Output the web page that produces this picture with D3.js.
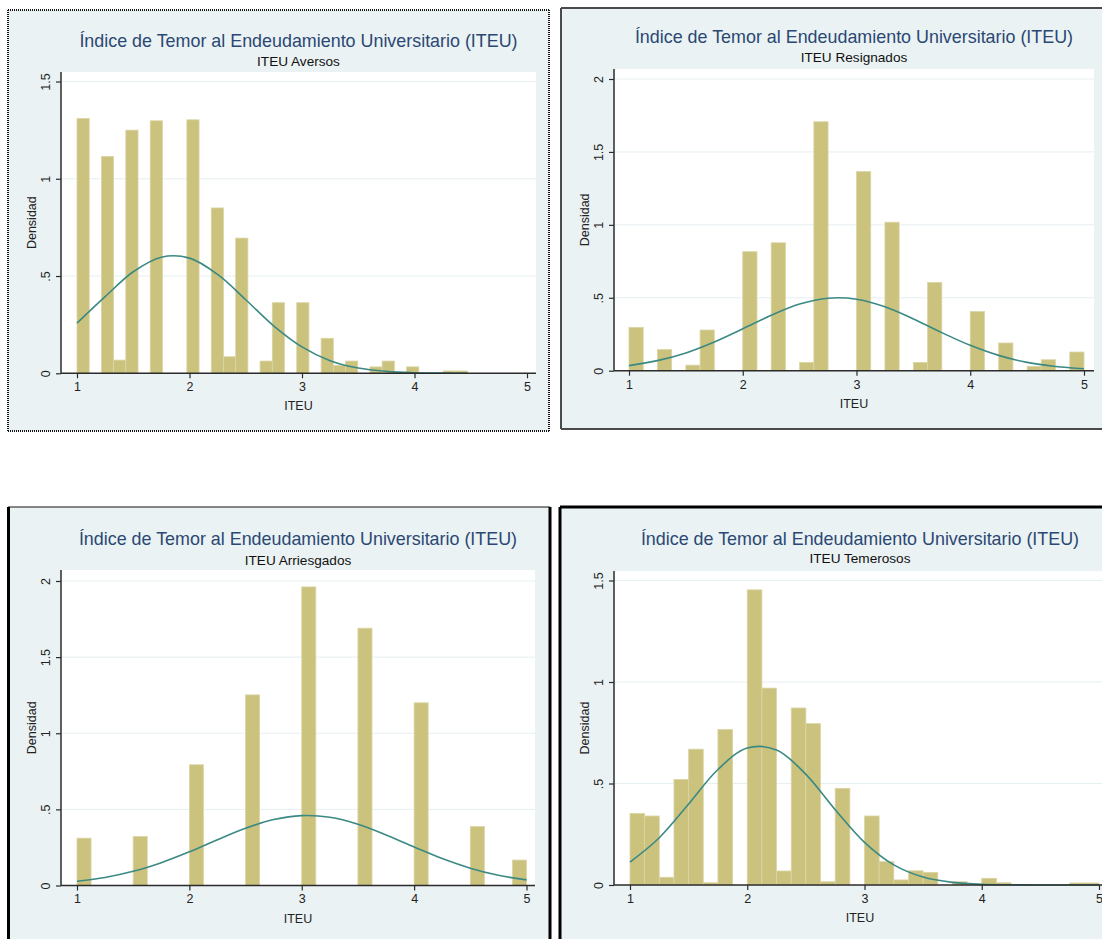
<!DOCTYPE html>
<html>
<head>
<meta charset="utf-8">
<script src="https://cdnjs.cloudflare.com/ajax/libs/d3/7.8.5/d3.min.js"></script>
<style>
  body { margin: 0; background: #ffffff; }
  svg { display: block; font-family: "Liberation Sans", Arial, Helvetica, sans-serif; }
</style>
</head>
<body>
<div id="plots"></div>
<script>

// Four Stata histograms (density) of ITEU with a normal overlay, one per group
// 2 x 2 grid, every panel has its own frame style (dotted / grey / black)

// -----------------------------------------------------------------------
//  Data
// -----------------------------------------------------------------------

const titleText = "Índice de Temor al Endeudamiento Universitario (ITEU)";
const subtitles = ["ITEU Aversos", "ITEU Resignados", "ITEU Arriesgados", "ITEU Temerosos"];
const xTitle = "ITEU";
const yTitle = "Densidad";

const xTicks = [1, 2, 3, 4, 5];
const yTicksShort = [0, 0.5, 1, 1.5];
const yTicksTall = [0, 0.5, 1, 1.5, 2];

// bins start at 1, 32 bins per panel
const binStart = 1;
const binWidths = [0.1085, 0.125, 0.125, 0.125];

const aversosDensity = [1.31, 0, 1.115, 0.068, 1.25, 0, 1.298, 0, 0, 1.303, 0, 0.85,
                        0.085, 0.695, 0, 0.063, 0.363, 0, 0.363, 0, 0.18, 0.04,
                        0.063, 0, 0.033, 0.063, 0, 0.033, 0, 0, 0.012, 0.012];

const resignadosDensity = [0.297, 0, 0.145, 0, 0.038, 0.279, 0, 0, 0.816, 0, 0.877, 0,
                           0.057, 1.707, 0, 0, 1.365, 0, 1.018, 0, 0.057, 0.605,
                           0, 0, 0.406, 0, 0.19, 0, 0.03, 0.075, 0, 0.128];

const arriesgadosDensity = [0.311, 0, 0, 0, 0.322, 0, 0, 0, 0.793, 0, 0, 0,
                            1.252, 0, 0, 0, 1.961, 0, 0, 0, 1.69, 0,
                            0, 0, 1.20, 0, 0, 0, 0.387, 0, 0, 0.167];

const temerososDensity = [0.353, 0.34, 0.038, 0.52, 0.669, 0.011, 0.766, 0, 1.454, 0.97,
                          0.069, 0.872, 0.795, 0.016, 0.476, 0, 0.34, 0.115, 0.025, 0.07,
                          0.062, 0, 0.016, 0, 0.033, 0.011, 0, 0, 0, 0, 0.01, 0.01];

// normal density overlay, read every 0.25
const curveX = [1, 1.25, 1.5, 1.75, 2, 2.25, 2.5, 2.75, 3, 3.25, 3.5, 3.75, 4, 4.25, 4.5, 4.75, 5];
const aversosCurveX = [1, 1.25, 1.5, 1.75, 2, 2.25, 2.5, 2.75, 3, 3.25, 3.5, 3.75, 4, 4.25, 4.47];

const aversosCurve = [0.258, 0.394, 0.522, 0.597, 0.592, 0.508, 0.378, 0.243, 0.136,
                      0.065, 0.027, 0.010, 0.003, 0.001, 0];
const resignadosCurve = [0.035, 0.069, 0.122, 0.197, 0.287, 0.380, 0.457, 0.497, 0.490,
                         0.438, 0.355, 0.261, 0.174, 0.105, 0.057, 0.029, 0.013];
const arriesgadosCurve = [0.028, 0.053, 0.093, 0.150, 0.221, 0.301, 0.376, 0.433, 0.459,
                          0.448, 0.402, 0.332, 0.253, 0.177, 0.114, 0.067, 0.037];
const temerososCurve = [0.113, 0.233, 0.399, 0.569, 0.675, 0.665, 0.545, 0.371, 0.210,
                        0.099, 0.039, 0.013, 0.003, 0.001, 0, 0, 0];

// -----------------------------------------------------------------------
//  Layout
// -----------------------------------------------------------------------

const width = 1102, height = 939;

const colors = {
    background: "#eaf2f3",
    bar: "#cbc27e",
    barEdge: "#dbd5a5",
    curve: "#3b8983",
    title: "#2a4873",
    grid: "#e6eff1",
    axis: "#2b2b2b"
};

const borderStyles = {
    dot:   {stroke: "#111", width: 2, dash: "1,1"},
    grey:  {stroke: "#4a4a4a", width: 2, dash: null},
    black: {stroke: "#000", width: 3, dash: null}
};

let panels = [
    {   // top left
        density: aversosDensity, curveXs: aversosCurveX, curve: aversosCurve, yTicks: yTicksShort,
        frame: {x0: 8, y0: 10, x1: 549, y1: 431},
        plot: {left: 61, top: 72, right: 536, bottom: 373.3},
        xPx: [77, 527], yTopPx: 81.5,
        titleY: 46.5, subY: 66,
        sides: {top: "dot", left: "dot", right: "dot", bottom: "dot"}
    },
    {   // top right
        density: resignadosDensity, curveXs: curveX, curve: resignadosCurve, yTicks: yTicksTall,
        frame: {x0: 561, y0: 8, x1: 1112, y1: 429},
        plot: {left: 614, top: 69, right: 1094, bottom: 370.7},
        xPx: [629, 1084], yTopPx: 79,
        titleY: 42.5, subY: 62,
        sides: {top: "grey", left: "grey", bottom: "grey"}
    },
    {   // bottom left
        density: arriesgadosDensity, curveXs: curveX, curve: arriesgadosCurve, yTicks: yTicksTall,
        frame: {x0: 8.5, y0: 507, x1: 550, y1: 960},
        plot: {left: 61, top: 570, right: 535, bottom: 885.5},
        xPx: [77, 526.5], yTopPx: 581,
        titleY: 545, subY: 565,
        sides: {top: "dot", left: "black", right: "black"}
    },
    {   // bottom right
        density: temerososDensity, curveXs: curveX, curve: temerososCurve, yTicks: yTicksShort,
        frame: {x0: 560, y0: 507, x1: 1115, y1: 960},
        plot: {left: 614, top: 571, right: 1106, bottom: 885},
        xPx: [630, 1099], yTopPx: 580.5,
        titleY: 545, subY: 563,
        sides: {top: "black", left: "black"}
    }
];

// .5 style labels like Stata
function tickLabel(d){
    return d === 0 ? "0" : String(d).replace(/^0\./, ".");
}

// -----------------------------------------------------------------------

function draw(){
    const svg = d3.select("#plots")
        .append("svg")
        .attr("width", width)
        .attr("height", height);

    panels.forEach((p, k) => {
        const g = svg.append("g").attr("class", "panel");

        // scales for this panel
        const x_scale = d3.scaleLinear().domain([1, 5]).range(p.xPx);
        const yMax = p.yTicks[p.yTicks.length - 1];
        const y_scale = d3.scaleLinear().domain([0, yMax]).range([p.plot.bottom, p.yTopPx]);

        // graph region
        g.append("rect")
            .attr("x", p.frame.x0).attr("y", p.frame.y0)
            .attr("width", p.frame.x1 - p.frame.x0)
            .attr("height", p.frame.y1 - p.frame.y0)
            .attr("fill", colors.background);

        // plot region
        g.append("rect")
            .attr("x", p.plot.left).attr("y", p.plot.top)
            .attr("width", p.plot.right - p.plot.left)
            .attr("height", p.plot.bottom - p.plot.top)
            .attr("fill", "#ffffff");

        // grid lines
        g.selectAll(".grid")
            .data(p.yTicks.filter(d => d > 0))
            .enter()
            .append("line")
            .attr("class", "grid")
            .attr("x1", p.plot.left).attr("x2", p.plot.right)
            .attr("y1", d => y_scale(d)).attr("y2", d => y_scale(d))
            .attr("stroke", colors.grid)
            .attr("stroke-width", 1);

        // bars
        const w = binWidths[k];
        const bins = p.density.map((d, i) => ({x0: binStart + i * w, x1: binStart + (i + 1) * w, y: d}))
            .filter(d => d.y > 0);

        g.selectAll(".bar")
            .data(bins)
            .enter()
            .append("rect")
            .attr("class", "bar")
            .attr("x", d => x_scale(d.x0))
            .attr("width", d => x_scale(d.x1) - x_scale(d.x0))
            .attr("y", d => y_scale(d.y))
            .attr("height", d => y_scale(0) - y_scale(d.y))
            .attr("fill", colors.bar)
            .attr("stroke", colors.barEdge)
            .attr("stroke-width", 0.8);

        // normal curve
        const line = d3.line()
            .x(d => x_scale(d[0]))
            .y(d => y_scale(d[1]))
            .curve(d3.curveCatmullRom);

        g.append("path")
            .datum(p.curveXs.map((x, i) => [x, p.curve[i]]))
            .attr("d", line)
            .attr("fill", "none")
            .attr("stroke", colors.curve)
            .attr("stroke-width", 1.6);

        // x axis
        const xAxis = g.append("g")
            .attr("transform", `translate(0,${p.plot.bottom})`)
            .call(d3.axisBottom(x_scale).tickValues(xTicks).tickSize(5).tickPadding(4).tickFormat(d3.format("d")));
        xAxis.select(".domain").remove();
        xAxis.selectAll("line").attr("stroke", colors.axis).attr("stroke-width", 1.2);
        xAxis.selectAll("text")
            .attr("fill", "#222")
            .attr("font-size", "12.5px")
            .attr("font-family", null);

        // y axis, labels rotated like Stata
        const yAxis = g.append("g")
            .attr("transform", `translate(${p.plot.left},0)`)
            .call(d3.axisLeft(y_scale).tickValues(p.yTicks).tickSize(5).tickFormat(tickLabel));
        yAxis.select(".domain").remove();
        yAxis.selectAll("line").attr("stroke", colors.axis).attr("stroke-width", 1.2);
        yAxis.selectAll("text")
            .attr("x", 0).attr("dy", null)
            .attr("text-anchor", "middle")
            .attr("transform", "translate(-11,0) rotate(-90)")
            .attr("fill", "#222")
            .attr("font-size", "12.5px")
            .attr("font-family", null);

        // axis lines over the plot region
        g.append("line")
            .attr("x1", p.plot.left).attr("x2", p.plot.right)
            .attr("y1", p.plot.bottom).attr("y2", p.plot.bottom)
            .attr("stroke", colors.axis).attr("stroke-width", 1.5);
        g.append("line")
            .attr("x1", p.plot.left).attr("x2", p.plot.left)
            .attr("y1", p.plot.top).attr("y2", p.plot.bottom)
            .attr("stroke", colors.axis).attr("stroke-width", 1.5);

        // titles
        const cx = (p.plot.left + p.plot.right) / 2;
        g.append("text")
            .attr("x", cx).attr("y", p.titleY)
            .attr("text-anchor", "middle")
            .attr("font-size", "17.9px")
            .attr("fill", colors.title)
            .text(titleText);
        g.append("text")
            .attr("x", cx).attr("y", p.subY)
            .attr("text-anchor", "middle")
            .attr("font-size", "13.6px")
            .attr("fill", "#111")
            .text(subtitles[k]);

        g.append("text")
            .attr("x", cx).attr("y", p.plot.bottom + 37)
            .attr("text-anchor", "middle")
            .attr("font-size", "12.5px")
            .attr("fill", "#222")
            .text(xTitle);
        g.append("text")
            .attr("transform", `translate(${p.plot.left - 25},${(p.plot.top + p.plot.bottom) / 2}) rotate(-90)`)
            .attr("text-anchor", "middle")
            .attr("font-size", "12.5px")
            .attr("fill", "#222")
            .text(yTitle);

        // frame sides
        const f = p.frame;
        const sideCoords = {
            top:    [f.x0, f.y0, f.x1, f.y0],
            bottom: [f.x0, f.y1, f.x1, f.y1],
            left:   [f.x0, f.y0, f.x0, f.y1],
            right:  [f.x1, f.y0, f.x1, f.y1]
        };
        Object.entries(p.sides).forEach(([side, style]) => {
            const s = borderStyles[style];
            const c = sideCoords[side];
            g.append("line")
                .attr("x1", c[0]).attr("y1", c[1]).attr("x2", c[2]).attr("y2", c[3])
                .attr("stroke", s.stroke)
                .attr("stroke-width", s.width)
                .attr("stroke-dasharray", s.dash);
        });
    });
}

draw();

</script>
</body>
</html>
